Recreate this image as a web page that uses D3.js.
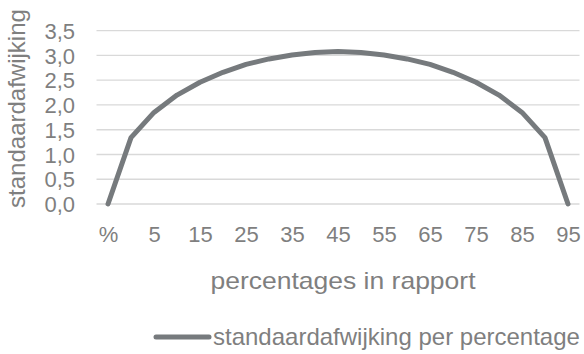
<!DOCTYPE html>
<html>
<head>
<meta charset="utf-8">
<script src="https://cdn.jsdelivr.net/npm/d3@7/dist/d3.min.js"></script>
<style>
  html, body { margin: 0; padding: 0; background: #fff; }
  svg { display: block; font-family: "Liberation Sans", Arial, sans-serif; }
</style>
</head>
<body>
<svg id="chart" width="584" height="354"></svg>
<script>
// Category labels along the x axis (every other one is shown)
const categories = ["%", "0", "5", "10", "15", "20", "25", "30", "35", "40", "45",
                    "50", "55", "60", "65", "70", "75", "80", "85", "90", "95"];
// Standard deviation per percentage
const values = [0.00, 1.34, 1.85, 2.20, 2.46, 2.66, 2.82, 2.93, 3.01, 3.06, 3.08,
                3.06, 3.01, 2.93, 2.82, 2.66, 2.46, 2.20, 1.85, 1.34, 0.00];
// Y axis ticks
const yTicks = [0, 0.5, 1, 1.5, 2, 2.5, 3, 3.5];

const seriesName = "standaardafwijking per percentage";
const xTitle = "percentages in rapport";
const yTitle = "standaardafwijking";

const textColor = "#7f7f7f";
const lineColor = "#767a7d";
const gridColor = "#d9d9d9";
const tickFont = 22;
const titleFont = 24;

const svg = d3.select("#chart");
const plot = { left: 96.5, right: 579.5, top: 30.7, bottom: 204 };

const x = d3.scalePoint().domain(categories).range([plot.left, plot.right]).padding(0.5);
const y = d3.scaleLinear().domain([0, 3.5]).range([plot.bottom, plot.top]);

const fmt = v => d3.format(".1f")(v).replace(".", ",");

// Horizontal gridlines
svg.append("g").selectAll("line").data(yTicks).join("line")
  .attr("x1", plot.left).attr("x2", plot.right)
  .attr("y1", d => y(d)).attr("y2", d => y(d))
  .attr("stroke", gridColor).attr("stroke-width", 1.3);

// Y axis tick labels
const yAxis = d3.axisLeft(y).tickValues(yTicks).tickFormat(fmt).tickSize(0).tickPadding(0);
const gy = svg.append("g").attr("transform", "translate(75,0)").call(yAxis);
gy.select(".domain").remove();
gy.selectAll("text").attr("fill", textColor).attr("font-size", tickFont)
  .attr("font-family", "Liberation Sans, Arial, sans-serif").attr("dy", "0.35em");

// X axis tick labels, every second category
const xAxis = d3.axisBottom(x)
  .tickValues(categories.filter((c, i) => i % 2 === 0))
  .tickSize(0).tickPadding(0);
const gx = svg.append("g").attr("transform", "translate(0,242)").call(xAxis);
gx.select(".domain").remove();
gx.selectAll("text").attr("fill", textColor).attr("font-size", tickFont)
  .attr("font-family", "Liberation Sans, Arial, sans-serif").attr("dy", 0);

// Data line
const line = d3.line().x((d, i) => x(categories[i])).y(d => y(d));
svg.append("path").datum(values)
  .attr("d", line)
  .attr("fill", "none")
  .attr("stroke", lineColor)
  .attr("stroke-width", 5)
  .attr("stroke-linejoin", "round")
  .attr("stroke-linecap", "round");

// Axis titles
svg.append("text")
  .attr("x", 343).attr("y", 289)
  .attr("text-anchor", "middle")
  .attr("fill", textColor).attr("font-size", titleFont)
  .attr("textLength", 265).attr("lengthAdjust", "spacingAndGlyphs")
  .text(xTitle);

svg.append("text")
  .attr("transform", "translate(25,108.5) rotate(-90)")
  .attr("text-anchor", "middle")
  .attr("fill", textColor).attr("font-size", titleFont)
  .text(yTitle);

// Legend
const legend = svg.append("g");
legend.append("line")
  .attr("x1", 156).attr("x2", 209).attr("y1", 337).attr("y2", 337)
  .attr("stroke", lineColor).attr("stroke-width", 5).attr("stroke-linecap", "round");
legend.append("text")
  .attr("x", 213).attr("y", 345)
  .attr("fill", textColor).attr("font-size", titleFont)
  .text(seriesName);
</script>
</body>
</html>
